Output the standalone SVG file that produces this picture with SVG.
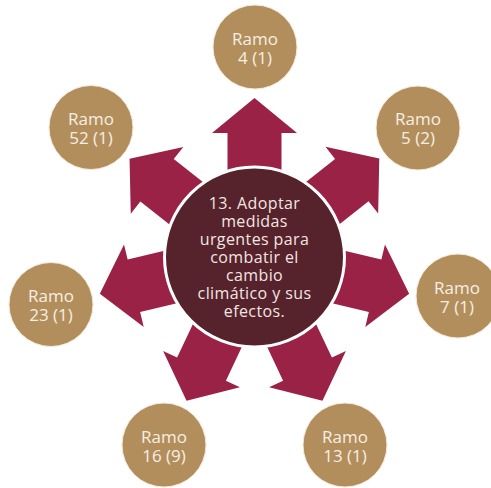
<svg xmlns="http://www.w3.org/2000/svg" width="491" height="488" viewBox="0 0 491 488">
<defs>
<style>
.arr{fill:#9b2247}
.hub{fill:#56222b;stroke:#ffffff;stroke-width:3}
.leaf{fill:#b38e5d;stroke:#f3ead9;stroke-width:1}
.lt{font-family:"Open Sans","DejaVu Sans",sans-serif;font-size:17px;fill:#f6efe4;text-anchor:middle}
.ht{font-family:"Open Sans","DejaVu Sans",sans-serif;font-size:16px;fill:#f3e6e2;text-anchor:middle;letter-spacing:0.4px}
</style>
<path id="ar" d="M70,-27 L124,-27 L124,-42.5 L159,0 L124,42.5 L124,27 L70,27 Z"/>
</defs>
<rect width="491" height="488" fill="#ffffff"/>
<g id="connectors">
<use href="#ar" class="arr" transform="translate(254.5,257) rotate(-90)"/>
<use href="#ar" class="arr" transform="translate(254.5,257) rotate(-38.3)"/>
<use href="#ar" class="arr" transform="translate(254.5,257) rotate(13.4)"/>
<use href="#ar" class="arr" transform="translate(254.5,257) rotate(64.7)"/>
<use href="#ar" class="arr" transform="translate(254.5,257) rotate(115.3)"/>
<use href="#ar" class="arr" transform="translate(254.5,257) rotate(166.6)"/>
<use href="#ar" class="arr" transform="translate(254.5,257) rotate(218.2)"/>
</g>
<g id="hub">
<circle class="hub" cx="254.5" cy="257" r="90"/>
<text class="ht"><tspan x="254.5" y="208.5">13. Adoptar</tspan><tspan x="254.5" y="226.5">medidas</tspan><tspan x="254.5" y="244.5">urgentes para</tspan><tspan x="254.5" y="262.5">combatir el</tspan><tspan x="254.5" y="280.5">cambio</tspan><tspan x="254.5" y="298.5">climático y sus</tspan><tspan x="254.5" y="316.5">efectos.</tspan></text>
</g>
<g id="ramo4">
<circle class="leaf" cx="255" cy="47" r="42"/>
<text class="lt"><tspan x="255" y="45">Ramo</tspan><tspan x="255" y="64">4 (1)</tspan></text>
</g>
<g id="ramo5">
<circle class="leaf" cx="418" cy="128" r="42"/>
<text class="lt"><tspan x="418" y="125">Ramo</tspan><tspan x="418" y="144">5 (2)</tspan></text>
</g>
<g id="ramo7">
<circle class="leaf" cx="458" cy="296" r="42"/>
<text class="lt"><tspan x="457" y="294">Ramo</tspan><tspan x="457" y="313">7 (1)</tspan></text>
</g>
<g id="ramo13">
<circle class="leaf" cx="345" cy="445" r="42"/>
<text class="lt"><tspan x="345" y="443">Ramo</tspan><tspan x="345" y="462">13 (1)</tspan></text>
</g>
<g id="ramo16">
<circle class="leaf" cx="164" cy="445" r="42"/>
<text class="lt"><tspan x="164" y="443">Ramo</tspan><tspan x="164" y="462">16 (9)</tspan></text>
</g>
<g id="ramo23">
<circle class="leaf" cx="51" cy="304.5" r="42"/>
<text class="lt"><tspan x="51" y="302">Ramo</tspan><tspan x="51" y="321">23 (1)</tspan></text>
</g>
<g id="ramo52">
<circle class="leaf" cx="91" cy="127.5" r="42"/>
<text class="lt"><tspan x="91" y="125">Ramo</tspan><tspan x="91" y="144">52 (1)</tspan></text>
</g>
</svg>
